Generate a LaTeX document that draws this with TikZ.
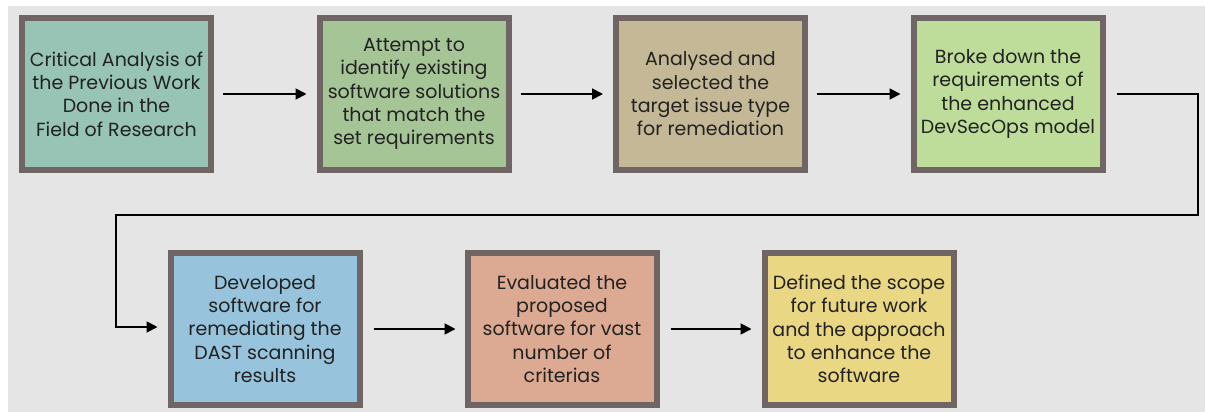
\documentclass[tikz,border=0pt]{standalone}
\usepackage{fontspec}
\setmainfont{Poppins}
\usetikzlibrary{arrows.meta}
\definecolor{bg}{HTML}{E5E5E5}
\definecolor{edge}{HTML}{706565}
\definecolor{txt}{HTML}{222222}
\definecolor{cA}{HTML}{97C4B4}
\definecolor{cB}{HTML}{A6C597}
\definecolor{cC}{HTML}{C4B896}
\definecolor{cD}{HTML}{BEDD9B}
\definecolor{cE}{HTML}{97C4DC}
\definecolor{cF}{HTML}{DCA992}
\definecolor{cG}{HTML}{E9D784}
\tikzset{
  stepbox/.style={draw=edge, line width=6pt, minimum width=189pt, minimum height=152pt,
    align=center, text=txt, inner sep=0pt, font=\fontsize{19}{23.3}\selectfont},
  flow/.style={line width=1.8pt, -{Triangle[length=11pt,width=11pt]}}
}
\begin{document}
\begin{tikzpicture}[x=1pt,y=-1pt]
\useasboundingbox (0,0) rectangle (1205,412);
\fill[white] (0,0) rectangle (1205,412);
\fill[bg] (8,6) rectangle (1205,412);
\node[stepbox, fill=cA] (b1) at (116.5,94) {Critical Analysis of\\the Previous Work\\Done in the\\Field of Research};
\node[stepbox, fill=cB] (b2) at (414,94) {Attempt to\\identify existing\\software solutions\\that match the\\set requirements};
\node[stepbox, fill=cC] (b3) at (710.5,94) {Analysed and\\selected the\\target issue type\\for remediation};
\node[stepbox, fill=cD] (b4) at (1008,94) {Broke down the\\requirements of\\the enhanced\\DevSecOps model};
\node[stepbox, fill=cE] (b5) at (265,329) {Developed\\software for\\remediating the\\DAST scanning\\results};
\node[stepbox, fill=cF] (b6) at (562,329) {Evaluated the\\proposed\\software for vast\\number of\\criterias};
\node[stepbox, fill=cG] (b7) at (859,329) {Defined the scope\\for future work\\and the approach\\to enhance the\\software};
\coordinate (r1) at (1197.7,94);
\coordinate (r2) at (1197.7,215);
\coordinate (l1) at (116,215);
\coordinate (l2) at (116,327);
\draw[flow] ([xshift=9pt]b1.east) -- ([xshift=-10pt]b2.west);
\draw[flow] ([xshift=9pt]b2.east) -- ([xshift=-10pt]b3.west);
\draw[flow] ([xshift=9pt]b3.east) -- ([xshift=-10pt]b4.west);
\draw[flow] ([xshift=11pt]b4.east) -- (r1) -- (r2) -- (l1) -- (l2) -- ([xshift=-10pt]b5.west |- l2);
\draw[flow] ([xshift=11pt]b5.east) -- ([xshift=-9pt]b6.west);
\draw[flow] ([xshift=11pt]b6.east) -- ([xshift=-10pt]b7.west);
\end{tikzpicture}
\end{document}
